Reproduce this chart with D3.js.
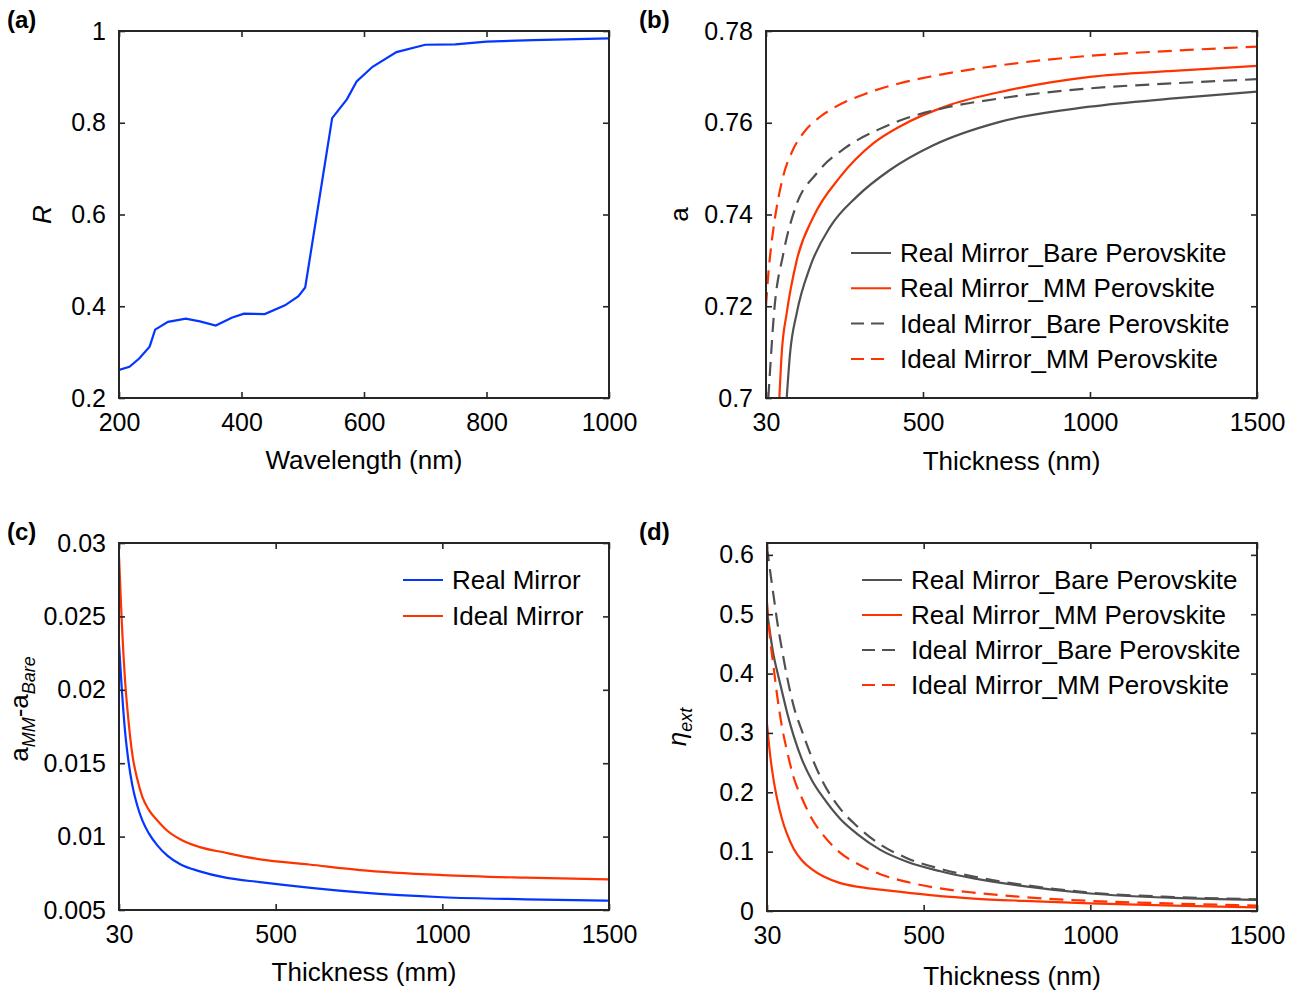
<!DOCTYPE html>
<html>
<head>
<meta charset="utf-8">
<script src="https://cdn.jsdelivr.net/npm/d3@7"></script>
<style>
body { margin: 0; background: #fff; }
svg text { font-family: "Liberation Sans", Arial, Helvetica, sans-serif; fill: #000; }
</style>
</head>
<body>
<script>
// (a) reflectance spectrum
var wavelength = [200,217,233,250,259,280,309,332,358,384,404,438,471,493,504,523,548,572,588,614,653,700,749,800,876,1000];
var reflectance = [0.261,0.268,0.286,0.312,0.349,0.366,0.373,0.367,0.358,0.375,0.384,0.383,0.402,0.422,0.441,0.6,0.810,0.851,0.890,0.922,0.954,0.970,0.971,0.977,0.980,0.984];
var wlTicks = [200,400,600,800,1000];
var rTicks = [0.2,0.4,0.6,0.8,1];
var rTickLabels = ["0.2","0.4","0.6","0.8","1"];

// (b) absorptance a vs thickness
var bRealBareT = [92,102,122,162,222,302,401,531,730,1000,1250,1500];
var bRealBareA = [0.700,0.7097,0.7185,0.7286,0.7373,0.7439,0.7497,0.7551,0.7602,0.7635,0.7653,0.7668];
var bRealMMT = [70,77,92,122,172,252,351,431,581,750,1000,1250,1500];
var bRealMMA = [0.700,0.7097,0.7185,0.730,0.7395,0.7482,0.7555,0.7592,0.7639,0.767,0.770,0.7713,0.7724];
var bIdealBareT = [37,40,54,82,117,182,267,366,431,551,750,1000,1250,1500];
var bIdealBareA = [0.700,0.7035,0.7185,0.7315,0.7413,0.749,0.7545,0.7585,0.7605,0.763,0.7655,0.7675,0.7686,0.7695];
var bIdealMMT = [30,36,44,52,65,82,110,142,190,232,331,441,531,750,1000,1250,1500];
var bIdealMMA = [0.720,0.7262,0.7322,0.7368,0.7428,0.7485,0.7540,0.7578,0.7612,0.7632,0.7664,0.7688,0.7702,0.7727,0.7746,0.7757,0.7766];
var aTicks = [0.7,0.72,0.74,0.76,0.78];
var aTickLabels = ["0.7","0.72","0.74","0.76","0.78"];

// thickness axis shared by b, c, d
var thickTicks = [30,500,1000,1500];

// (c) a_MM - a_Bare
var cRealT = [30,38,48,58,70,85,100,120,145,175,215,270,350,453,753,1000,1250,1500];
var cRealV = [0.0231,0.0202,0.0172,0.0152,0.0135,0.0121,0.0111,0.0102,0.0094,0.0087,0.0081,0.00765,0.0072,0.0069,0.0062,0.00587,0.00573,0.00563];
var cIdealT = [30,38,48,58,70,85,100,120,145,175,215,270,350,453,600,753,1000,1250,1500];
var cIdealV = [0.0291,0.0248,0.0207,0.0180,0.0156,0.0139,0.0127,0.0118,0.0111,0.0104,0.0098,0.0093,0.0089,0.00845,0.0081,0.00772,0.00738,0.0072,0.00708];
var diffTicks = [0.005,0.01,0.015,0.02,0.025,0.03];
var diffTickLabels = ["0.005","0.01","0.015","0.02","0.025","0.03"];

// (d) eta_ext, all four read at the same thicknesses
var dThick = [30,40,50,60,75,90,110,135,165,200,250,300,370,450,550,650,800,1000,1250,1500];
var dRealBare = [0.505,0.465,0.43,0.405,0.37,0.335,0.295,0.255,0.22,0.19,0.155,0.13,0.103,0.083,0.067,0.055,0.042,0.0295,0.022,0.0186];
var dRealMM = [0.315,0.26,0.22,0.19,0.155,0.13,0.105,0.085,0.07,0.058,0.047,0.041,0.036,0.031,0.025,0.021,0.017,0.0128,0.009,0.0062];
var dIdealBare = [0.613,0.57,0.53,0.49,0.44,0.395,0.345,0.303,0.258,0.215,0.172,0.143,0.112,0.089,0.071,0.058,0.044,0.031,0.0235,0.0197];
var dIdealMM = [0.52,0.455,0.41,0.365,0.31,0.27,0.225,0.19,0.155,0.127,0.098,0.08,0.062,0.049,0.038,0.031,0.0235,0.017,0.0125,0.009];
var etaTicks = [0,0.1,0.2,0.3,0.4,0.5,0.6];

var legendNames4 = ["Real Mirror_Bare Perovskite","Real Mirror_MM Perovskite","Ideal Mirror_Bare Perovskite","Ideal Mirror_MM Perovskite"];
var legendNames2 = ["Real Mirror","Ideal Mirror"];

var GRAY = "#505050", RED = "#ff3300", BLUE = "#0536ff", AXIS = "#262626";
var FS = 25, FS_BIG = 26;

var svg = d3.select("body").append("svg")
  .attr("width", 1301).attr("height", 994);

function zip(xs, ys) {
  return xs.map(function(d, i) { return [d, ys[i]]; });
}

function panel(id, box, xDomain, yDomain, xTicks, xFmt, yTicks, yFmt) {
  var g = svg.append("g").attr("transform", "translate(" + box.left + "," + box.top + ")");
  var x = d3.scaleLinear().domain(xDomain).range([0, box.width]);
  var y = d3.scaleLinear().domain(yDomain).range([box.height, 0]);

  g.append("clipPath").attr("id", "clip-" + id)
    .append("rect").attr("width", box.width).attr("height", box.height);

  var plot = g.append("g").attr("clip-path", "url(#clip-" + id + ")");

  var ax = g.append("g").attr("class", "axes");
  var xb = d3.axisBottom(x).tickValues(xTicks).tickFormat(xFmt).tickSizeInner(-6).tickSizeOuter(0).tickPadding(15);
  var xt = d3.axisTop(x).tickValues(xTicks).tickFormat("").tickSizeInner(-6).tickSizeOuter(0);
  var yl = d3.axisLeft(y).tickValues(yTicks).tickFormat(yFmt).tickSizeInner(-6).tickSizeOuter(0).tickPadding(13);
  var yr = d3.axisRight(y).tickValues(yTicks).tickFormat("").tickSizeInner(-6).tickSizeOuter(0);

  ax.append("g").attr("transform", "translate(0," + box.height + ")").call(xb);
  ax.append("g").call(xt);
  ax.append("g").call(yl);
  ax.append("g").attr("transform", "translate(" + box.width + ",0)").call(yr);
  ax.selectAll(".domain").remove();
  ax.selectAll(".tick line").attr("stroke", AXIS).attr("stroke-width", 1.6);
  ax.selectAll(".tick text").attr("font-size", FS).attr("fill", "#000");

  g.append("rect").attr("width", box.width).attr("height", box.height)
    .attr("fill", "none").attr("stroke", AXIS).attr("stroke-width", 2);

  return { g: g, plot: plot, x: x, y: y, box: box };
}

function drawLine(p, pts, color, dashed, curve) {
  var line = d3.line()
    .x(function(d) { return p.x(d[0]); })
    .y(function(d) { return p.y(d[1]); })
    .curve(curve || d3.curveMonotoneX);
  p.plot.append("path").datum(pts)
    .attr("d", line)
    .attr("fill", "none")
    .attr("stroke", color)
    .attr("stroke-width", 2.2)
    .attr("stroke-dasharray", dashed ? "14,8" : null);
}

function legend(p, x0, y0, step, names, colors, dashes) {
  names.forEach(function(n, i) {
    var yy = y0 + i * step;
    p.g.append("line")
      .attr("x1", x0).attr("x2", x0 + 40).attr("y1", yy).attr("y2", yy)
      .attr("stroke", colors[i]).attr("stroke-width", 2)
      .attr("stroke-dasharray", dashes[i] ? "13,7" : null);
    p.g.append("text")
      .attr("x", x0 + 49).attr("y", yy).attr("dy", "0.35em")
      .attr("font-size", FS_BIG).text(n);
  });
}

function fmtFrom(vals, labels) {
  return function(d) { var i = vals.indexOf(d); return i >= 0 ? labels[i] : ""; };
}

function xTitle(p, txt, dy) {
  p.g.append("text")
    .attr("x", p.box.width / 2).attr("y", p.box.height + dy)
    .attr("text-anchor", "middle").attr("font-size", FS_BIG).text(txt);
}

function panelLabel(txt, x, y) {
  svg.append("text").attr("x", x).attr("y", y)
    .attr("font-size", 24).attr("font-weight", "bold").text(txt);
}

// ---------- (a) ----------
var pa = panel("a", {left: 119, top: 31, width: 490, height: 367}, [200, 1000], [0.2, 1],
  wlTicks, d3.format("d"), rTicks, fmtFrom(rTicks, rTickLabels));
drawLine(pa, zip(wavelength, reflectance), BLUE, false, d3.curveLinear);
xTitle(pa, "Wavelength (nm)", 71);
pa.g.append("text")
  .attr("transform", "translate(-68," + (pa.box.height / 2) + ") rotate(-90)")
  .attr("text-anchor", "middle").attr("font-size", FS_BIG).attr("font-style", "italic").text("R");

// ---------- (b) ----------
var pb = panel("b", {left: 766, top: 31, width: 491, height: 367}, [30, 1500], [0.7, 0.78],
  thickTicks, d3.format("d"), aTicks, fmtFrom(aTicks, aTickLabels));
drawLine(pb, zip(bRealBareT, bRealBareA), GRAY, false);
drawLine(pb, zip(bRealMMT, bRealMMA), RED, false);
drawLine(pb, zip(bIdealBareT, bIdealBareA), GRAY, true);
drawLine(pb, zip(bIdealMMT, bIdealMMA), RED, true);
xTitle(pb, "Thickness (nm)", 72);
pb.g.append("text")
  .attr("transform", "translate(-78," + (pb.box.height / 2) + ") rotate(-90)")
  .attr("text-anchor", "middle").attr("font-size", FS_BIG).text("a");
legend(pb, 85, 222, 35.3, legendNames4, [GRAY, RED, GRAY, RED], [false, false, true, true]);

// ---------- (c) ----------
var pc = panel("c", {left: 119, top: 543, width: 490, height: 367}, [30, 1500], [0.005, 0.03],
  thickTicks, d3.format("d"), diffTicks, fmtFrom(diffTicks, diffTickLabels));
drawLine(pc, zip(cRealT, cRealV), BLUE, false);
drawLine(pc, zip(cIdealT, cIdealV), RED, false);
xTitle(pc, "Thickness (mm)", 71);
var ct = pc.g.append("text")
  .attr("transform", "translate(-91,166) rotate(-90)")
  .attr("text-anchor", "middle").attr("font-size", FS_BIG);
ct.append("tspan").text("a");
ct.append("tspan").attr("dy", 7).attr("font-size", 18).attr("font-style", "italic").text("MM");
ct.append("tspan").attr("dy", -7).text("-a");
ct.append("tspan").attr("dy", 7).attr("font-size", 18).attr("font-style", "italic").text("Bare");
legend(pc, 284, 37, 36, legendNames2, [BLUE, RED], [false, false]);

// ---------- (d) ----------
var pd = panel("d", {left: 767, top: 543, width: 490, height: 368}, [30, 1500], [0, 0.62],
  thickTicks, d3.format("d"), etaTicks, d3.format("~g"));
drawLine(pd, zip(dThick, dRealBare), GRAY, false);
drawLine(pd, zip(dThick, dRealMM), RED, false);
drawLine(pd, zip(dThick, dIdealBare), GRAY, true);
drawLine(pd, zip(dThick, dIdealMM), RED, true);
xTitle(pd, "Thickness (nm)", 74);
var dt = pd.g.append("text")
  .attr("transform", "translate(-81," + (pd.box.height / 2) + ") rotate(-90)")
  .attr("text-anchor", "middle").attr("font-size", FS_BIG);
dt.append("tspan").attr("font-style", "italic").text("\u03b7");
dt.append("tspan").attr("dy", 6).attr("font-size", 18).attr("font-style", "italic").text("ext");
legend(pd, 95, 37, 35, legendNames4, [GRAY, RED, GRAY, RED], [false, false, true, true]);

panelLabel("(a)", 7, 28);
panelLabel("(b)", 639, 28);
panelLabel("(c)", 7, 540);
panelLabel("(d)", 639, 540);
</script>
</body>
</html>
